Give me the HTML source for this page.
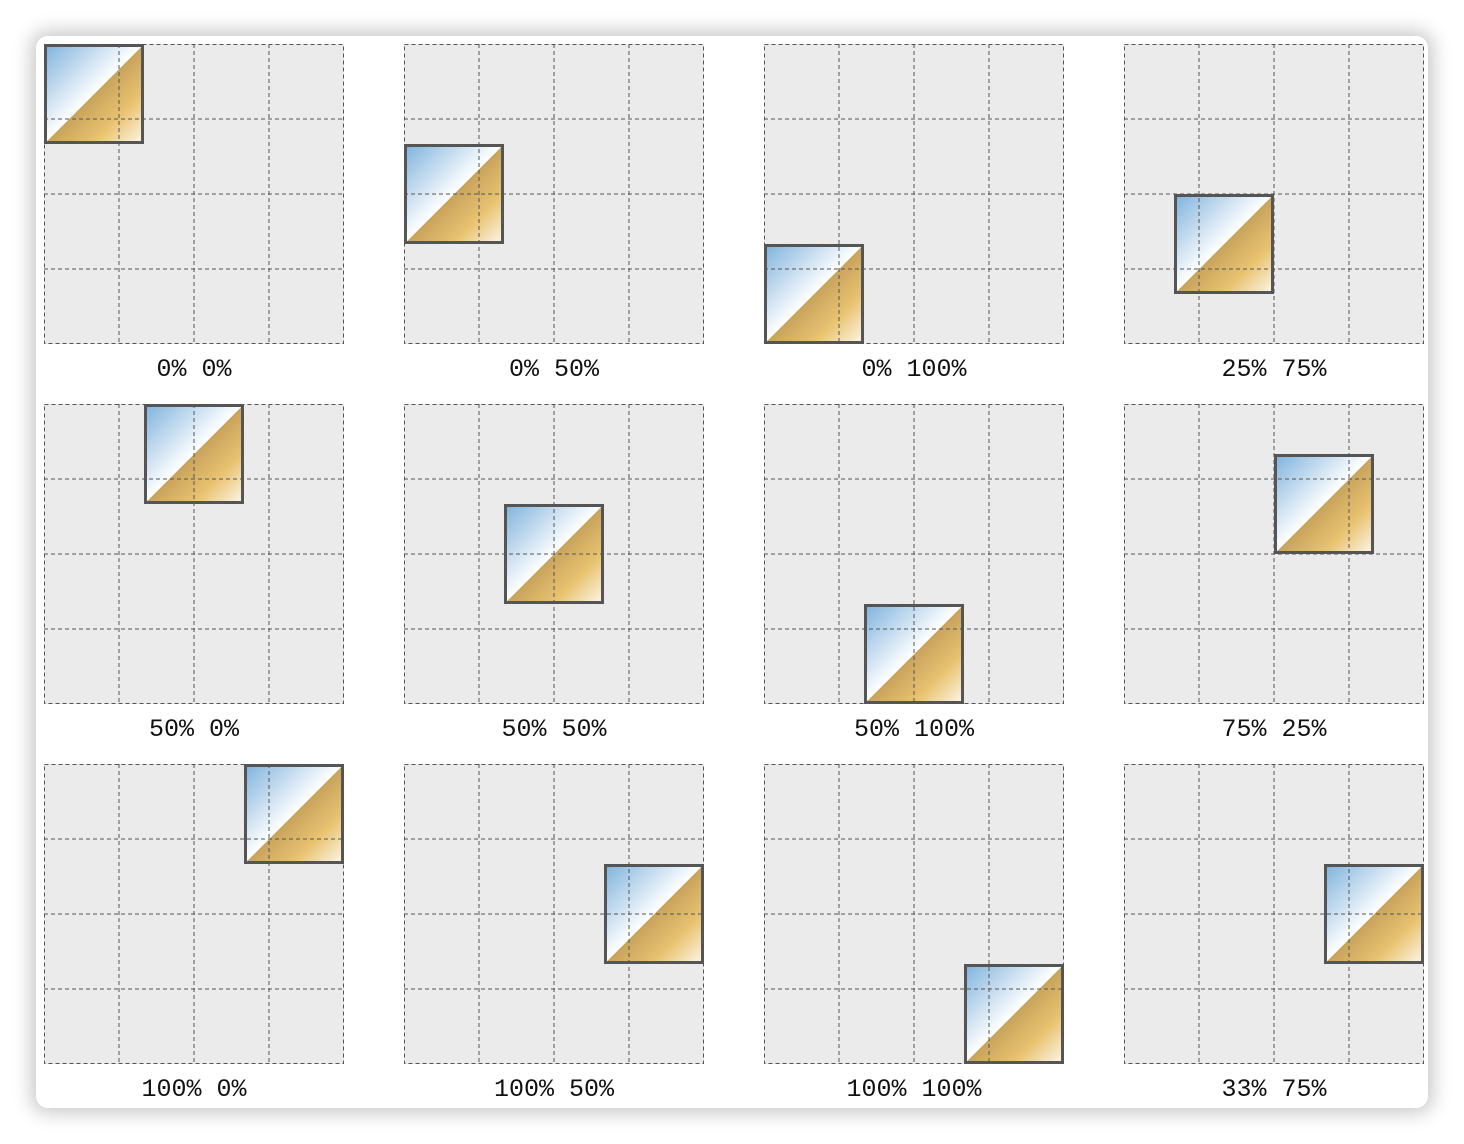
<!DOCTYPE html>
<html><head><meta charset="utf-8"><style>
html,body{margin:0;padding:0;background:#fff;width:1464px;height:1144px;overflow:hidden}
#card{position:absolute;left:36px;top:36px;width:1392px;height:1072px;background:#fff;border-radius:12px;box-shadow:0 0 18px 6px rgba(0,0,0,0.2)}
.cell{position:absolute;width:300px;height:300px}
.lbl{position:absolute;width:300px;text-align:center;font-family:"Liberation Mono","DejaVu Sans Mono",monospace;font-size:25px;color:#111}
</style></head><body>
<div id="card"></div>
<div id="root"></div>
<script>
const labels=["0% 0%","0% 50%","0% 100%","25% 75%","50% 0%","50% 50%","50% 100%","75% 25%","100% 0%","100% 50%","100% 100%","33% 75%"];
const posX=[0,0,0,0.25,0.5,0.5,0.5,0.75,1,1,1,1];
const posY=[0,0.5,1,0.75,0,0.5,1,0.25,0,0.5,1,0.5];
const root=document.getElementById('root');
const colX=[44,404,764,1124], rowY=[44,404,764];
const B=100;
labels.forEach((t,i)=>{
  const cx=colX[i%4], cy=rowY[Math.floor(i/4)];
  const c=document.createElement('div');
  c.className='cell';c.style.left=cx+'px';c.style.top=cy+'px';
  
  
  const bx=(300-B)*posX[i], by=(300-B)*posY[i];
  let lines='';
  for(let k=1;k<4;k++){lines+=`<line x1="${k*75}" y1="0" x2="${k*75}" y2="300"/><line x1="0" y1="${k*75}" x2="300" y2="${k*75}"/>`;}
  c.innerHTML=`<svg width="300" height="300" style="display:block">
<defs><linearGradient id="g${i}" x1="0" y1="0" x2="1" y2="1">
<stop offset="0" stop-color="#7fb2dd"/><stop offset="0.5" stop-color="#ffffff"/><stop offset="0.5" stop-color="#c8a35c"/><stop offset="0.75" stop-color="#e9c371"/><stop offset="1" stop-color="#fdf6e8"/></linearGradient></defs>
<rect x="0" y="0" width="300" height="300" fill="#ebebeb"/>
<rect x="${bx+1.5}" y="${by+1.5}" width="${B-3}" height="${B-3}" fill="url(#g${i})" stroke="#555" stroke-width="3"/>
<g stroke="#555" stroke-width="1" stroke-dasharray="4,3" fill="none">${lines}<rect x="0.5" y="0.5" width="299" height="299"/></g></svg>`;
  root.appendChild(c);
  const l=document.createElement('div');
  l.className='lbl';l.style.left=cx+'px';l.style.top=(cy+311)+'px';
  
  
  l.textContent=t;
  root.appendChild(l);
});
</script>
</body></html>
